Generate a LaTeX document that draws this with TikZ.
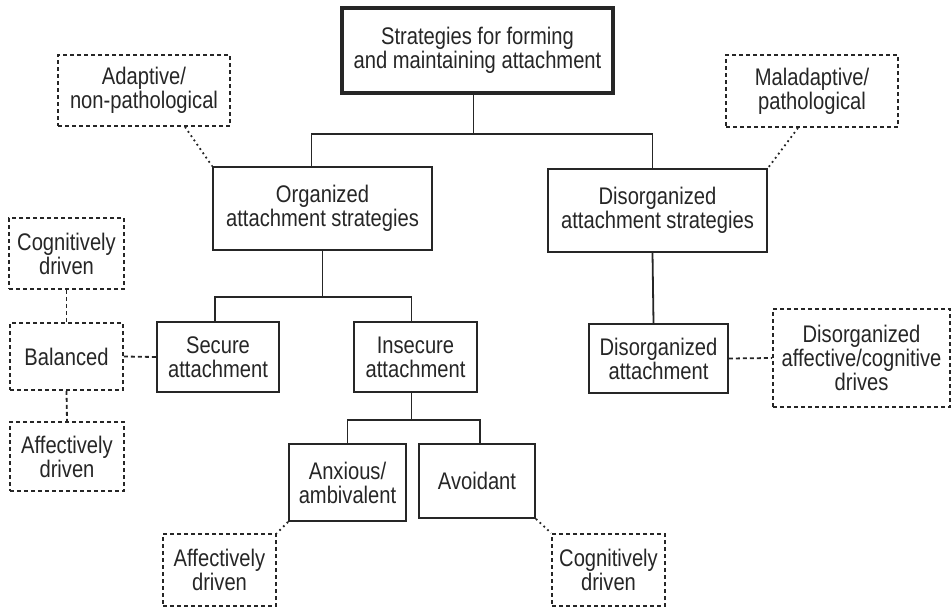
\documentclass[tikz,border=0pt]{standalone}
\usepackage{fontspec}
\setmainfont{Liberation Sans}[FakeStretch=0.84]
\usepackage{tikz}
\definecolor{ink}{HTML}{262626}

\begin{document}
\begin{tikzpicture}[x=1pt, y=-1pt,
  every node/.style={font=\fontsize{24}{24}\selectfont, text=ink, align=center, inner sep=2pt},
  box/.style={draw=ink, line width=1.8pt, fill=white},
  thickbox/.style={draw=ink, line width=3.8pt, fill=white},
  dashbox/.style={draw=ink, line width=1.8pt, dash pattern=on 4pt off 3pt, fill=white},
  conn/.style={draw=ink, line width=1.8pt},
  dashconn/.style={draw=ink, line width=1.8pt, dash pattern=on 4pt off 3pt},
  dotconn/.style={draw=ink, line width=1.8pt, dash pattern=on 1.8pt off 3.4pt}]
  \useasboundingbox (0,0) rectangle (952,608);
  % main tree
  \node[thickbox, minimum width=271, minimum height=85] (top) at (477.5,50.5) {Strategies for forming\\and maintaining attachment};
  \node[box, minimum width=219, minimum height=83] (org) at (322.5,208.5) {Organized\\attachment strategies};
  \node[box, minimum width=219, minimum height=83] (dis) at (657.5,210.5) {Disorganized\\attachment strategies};
  \node[box, minimum width=122, minimum height=70] (sec) at (218,357) {Secure\\attachment};
  \node[box, minimum width=123, minimum height=70] (ins) at (415.5,357) {Insecure\\attachment};
  \node[box, minimum width=139, minimum height=69] (dorg) at (658.5,358.5) {Disorganized\\attachment};
  \node[box, minimum width=117, minimum height=77] (anx) at (347.5,482.5) {Anxious/\\ambivalent};
  \node[box, minimum width=116, minimum height=74] (avo) at (477,481) {Avoidant};
  % side notes
  \node[dashbox, minimum width=172, minimum height=71] (adapt) at (144,90.5) {Adaptive/\\non-pathological};
  \node[dashbox, minimum width=172, minimum height=72] (malad) at (812,91) {Maladaptive/\\pathological};
  \node[dashbox, minimum width=115, minimum height=71] (cog) at (66.5,253.5) {Cognitively\\driven};
  \node[dashbox, minimum width=113, minimum height=67] (bal) at (66.5,356.5) {Balanced};
  \node[dashbox, minimum width=114, minimum height=69] (aff) at (67,456.5) {Affectively\\driven};
  \node[dashbox, minimum width=177, minimum height=98] (drives) at (861.5,358) {Disorganized\\affective/cognitive\\drives};
  \node[dashbox, minimum width=113, minimum height=72] (affb) at (219.5,570) {Affectively\\driven};
  \node[dashbox, minimum width=113, minimum height=72] (cogb) at (608.5,570) {Cognitively\\driven};
  % connectors
  \draw[conn] ([xshift=-4]top.south) -- ++(0,39) coordinate (j1);
  \draw[conn] ([xshift=-11]org.north) |- (j1) -| ([xshift=-5]dis.north);
  \draw[conn] (org.south) -- ++(0,46) coordinate (j2);
  \draw[conn] ([xshift=-3]sec.north) |- (j2) -| ([xshift=-4]ins.north);
  \draw[conn] ([xshift=-4]ins.south) -- ++(0,27) coordinate (j3);
  \draw[conn] (anx.north) |- (j3) -| ([xshift=3]avo.north);
  \draw[conn] ([xshift=-5]dis.south) -- ([xshift=-5]dorg.north);
  \draw[dashconn] (cog.south) -- (bal.north);
  \draw[dashconn] (bal.south) -- (aff.north);
  \draw[dashconn] (bal.east) -- (sec.west);
  \draw[dashconn] (dorg.east) -- (drives.west);
  \draw[dotconn] ([xshift=41]adapt.south) -- (org.north west);
  \draw[dotconn] ([xshift=-14]malad.south) -- (dis.north east);
  \draw[dotconn] (anx.south west) -- (affb.north east);
  \draw[dotconn] (avo.south east) -- (cogb.north west);
\end{tikzpicture}
\end{document}
